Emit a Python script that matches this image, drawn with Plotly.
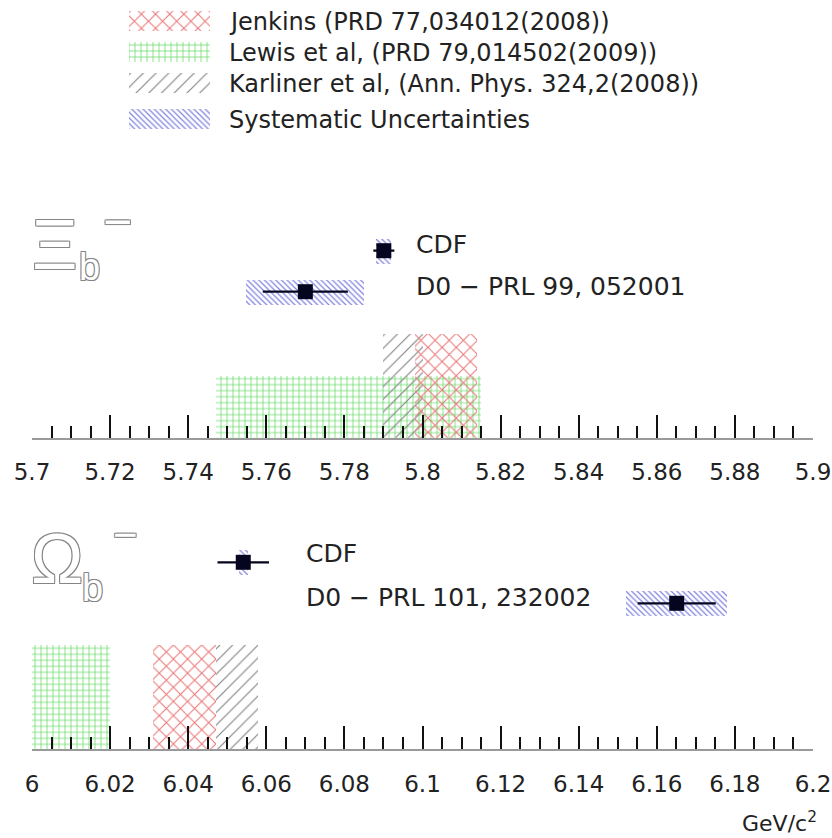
import plotly.graph_objects as go

# ---------------- data ----------------
# theory predictions (mass bands, GeV/c^2) : Jenkins, Lewis, Karliner
theory_names = ["Jenkins (PRD 77,034012(2008))",
                "Lewis et al, (PRD 79,014502(2009))",
                "Karliner et al, (Ann. Phys. 324,2(2008))"]
xi_theory_lo = [5.798, 5.747, 5.790]
xi_theory_hi = [5.814, 5.815, 5.800]
xi_theory_height = [104, 62, 104]
om_theory_lo = [6.031, 6.000, 6.047]
om_theory_hi = [6.047, 6.020, 6.058]
om_theory_height = [104, 104, 104]

# measurements : CDF, D0
exp_names = ["CDF", "D0"]
xi_mass = [5.7901, 5.7700]
xi_stat = [0.0027, 0.0109]
xi_syst = [0.0019, 0.0151]
xi_refs = ["CDF", "D0 − PRL 99, 052001"]
om_mass = [6.0541, 6.1651]
om_stat = [0.0066, 0.0100]
om_syst = [0.0012, 0.0130]
om_refs = ["CDF", "D0 − PRL 101, 232002"]
exp_row = [187, 146]          # vertical slot of each measurement
syst_half_height = 12.5

xi_ticks = [5.7, 5.72, 5.74, 5.76, 5.78, 5.8, 5.82, 5.84, 5.86, 5.88, 5.9]
xi_ticktext = ["5.7", "5.72", "5.74", "5.76", "5.78", "5.8", "5.82", "5.84", "5.86", "5.88", "5.9"]
om_ticks = [6.0, 6.02, 6.04, 6.06, 6.08, 6.1, 6.12, 6.14, 6.16, 6.18, 6.2]
om_ticktext = ["6", "6.02", "6.04", "6.06", "6.08", "6.1", "6.12", "6.14", "6.16", "6.18", "6.2"]

# ---------------- styles ----------------
W, H = 832, 838
FONT = "DejaVu Sans"
GLYPH_FONT = "Liberation Sans"
TXT = "#222222"
theory_style = [
    dict(color="#e87878", shape="x", size=10, solidity=0.2),
    dict(color="#5fd85f", shape="+", size=6, solidity=0.22),
    dict(color="#858585", shape="/", size=9, solidity=0.13),
]
syst_style = dict(color="#8484e0", shape="\\", size=4, solidity=0.32)
mark_color = "#05051f"


def px(x):
    return x / W


def py(y):
    return 1 - y / H


fig = go.Figure()


def pattern_marker(st):
    return dict(color=st["color"], line=dict(width=0),
                pattern=dict(shape=st["shape"], size=st["size"],
                             solidity=st["solidity"], fgcolor=st["color"],
                             fillmode="replace"))


def add_panel(xa, ya, lo, hi, heights, mass, stat, syst, draw_order):
    for i in draw_order:
        fig.add_trace(go.Bar(
            x=[(lo[i] + hi[i]) / 2], width=[hi[i] - lo[i]], y=[heights[i]], base=[0],
            marker=pattern_marker(theory_style[i]), xaxis=xa, yaxis=ya,
            showlegend=False, hoverinfo="skip"))
    # systematic boxes
    fig.add_trace(go.Bar(
        x=mass, width=[2 * s for s in syst], y=[2 * syst_half_height] * len(mass),
        base=[r - syst_half_height for r in exp_row],
        marker=pattern_marker(syst_style), xaxis=xa, yaxis=ya,
        showlegend=False, hoverinfo="skip"))
    # central values with statistical errors
    fig.add_trace(go.Scatter(
        x=mass, y=exp_row, mode="markers",
        marker=dict(symbol="square", size=15, color=mark_color, line=dict(width=0)),
        error_x=dict(type="data", array=stat, color=mark_color, thickness=2.2, width=0),
        xaxis=xa, yaxis=ya, showlegend=False, hoverinfo="skip", cliponaxis=False))


add_panel("x", "y", xi_theory_lo, xi_theory_hi, xi_theory_height,
          xi_mass, xi_stat, xi_syst, [1, 2, 0])
add_panel("x2", "y2", om_theory_lo, om_theory_hi, om_theory_height,
          om_mass, om_stat, om_syst, [1, 0, 2])

# legend swatches on a small helper axis (pixel units)
leg_rows = [21, 52, 83, 119]
leg_x0, leg_x1 = 129, 210
leg_styles = theory_style + [syst_style]
for st, r in zip(leg_styles, leg_rows):
    fig.add_trace(go.Bar(
        x=[(leg_x0 + leg_x1) / 2], width=[leg_x1 - leg_x0], y=[20], base=[r - 10],
        marker=pattern_marker(st), xaxis="x3", yaxis="y3",
        showlegend=False, hoverinfo="skip"))

leg_labels = theory_names + ["Systematic Uncertainties"]
annotations = []
for lab, r in zip(leg_labels, leg_rows):
    annotations.append(dict(x=px(227), y=py(r + 1), xref="paper", yref="paper",
                            text=lab, showarrow=False, xanchor="left", yanchor="middle",
                            font=dict(family=FONT, size=24, color=TXT)))

# experiment labels
for txt, (x, y) in zip(xi_refs, [(414, 244), (414, 286)]):
    annotations.append(dict(x=px(x), y=py(y), xref="paper", yref="paper", text=txt,
                            showarrow=False, xanchor="left", yanchor="middle",
                            font=dict(family=FONT, size=25, color=TXT)))
for txt, (x, y) in zip(om_refs, [(304, 553), (304, 597)]):
    annotations.append(dict(x=px(x), y=py(y), xref="paper", yref="paper", text=txt,
                            showarrow=False, xanchor="left", yanchor="middle",
                            font=dict(family=FONT, size=25, color=TXT)))

# particle symbols, drawn as outlined grey glyphs
outline = ("-1px -1px 0 #858585, 1px -1px 0 #858585, "
           "-1px 1px 0 #858585, 1px 1px 0 #858585")
glyph_font = lambda s: dict(family=GLYPH_FONT, size=s, color="#ffffff", shadow=outline)
for txt, x, y, s in [("Ξ", 55, 245, 70), ("b", 89, 267, 38), ("−", 117, 222, 50),
                     ("Ω", 57, 559, 70), ("b", 92, 588, 38), ("−", 125, 534, 42)]:
    annotations.append(dict(x=px(x), y=py(y), xref="paper", yref="paper", text=txt,
                            showarrow=False, xanchor="center", yanchor="middle",
                            font=glyph_font(s)))

annotations.append(dict(x=px(819), y=py(822), xref="paper", yref="paper",
                        text="GeV/c<sup>2</sup>", showarrow=False,
                        xanchor="right", yanchor="middle",
                        font=dict(family=FONT, size=22, color=TXT)))

x_dom = [px(32), px(813)]
axis_common = dict(
    domain=x_dom, showgrid=False, zeroline=False, showline=True, automargin=False,
    linecolor="#9a9a9a", linewidth=2, mirror=False,
    ticks="inside", ticklen=23, tickwidth=2.4, tickcolor="#111111",
    tickfont=dict(family=FONT, size=23, color=TXT), ticklabelstandoff=13,
    fixedrange=True)

fig.update_layout(
    width=W, height=H, autosize=False,
    margin=dict(l=0, r=0, t=0, b=0, pad=0, autoexpand=False),
    paper_bgcolor="white", plot_bgcolor="rgba(0,0,0,0)",
    barmode="overlay", bargap=0, showlegend=False,
    xaxis=dict(axis_common, range=[5.7, 5.9], anchor="y",
               tickmode="array", tickvals=xi_ticks, ticktext=xi_ticktext,
               minor=dict(ticks="inside", tick0=5.7, dtick=0.005, ticklen=12,
                          tickwidth=2.4, tickcolor="#111111", showgrid=False)),
    yaxis=dict(domain=[py(437.7), py(177.7)], range=[0, 260], visible=False,
               anchor="x", fixedrange=True, automargin=False),
    xaxis2=dict(axis_common, range=[6.0, 6.2], anchor="y2",
                tickmode="array", tickvals=om_ticks, ticktext=om_ticktext,
                minor=dict(ticks="inside", tick0=6.0, dtick=0.005, ticklen=12,
                           tickwidth=2.4, tickcolor="#111111", showgrid=False)),
    yaxis2=dict(domain=[py(749.3), py(489.3)], range=[0, 260], visible=False,
                anchor="x2", fixedrange=True, automargin=False),
    xaxis3=dict(domain=[0, px(250)], range=[0, 250], visible=False, anchor="y3",
                fixedrange=True, automargin=False),
    yaxis3=dict(domain=[py(150), 1], range=[150, 0], visible=False, anchor="x3",
                fixedrange=True, automargin=False),
    annotations=annotations,
)

fig.write_html("out.html")
